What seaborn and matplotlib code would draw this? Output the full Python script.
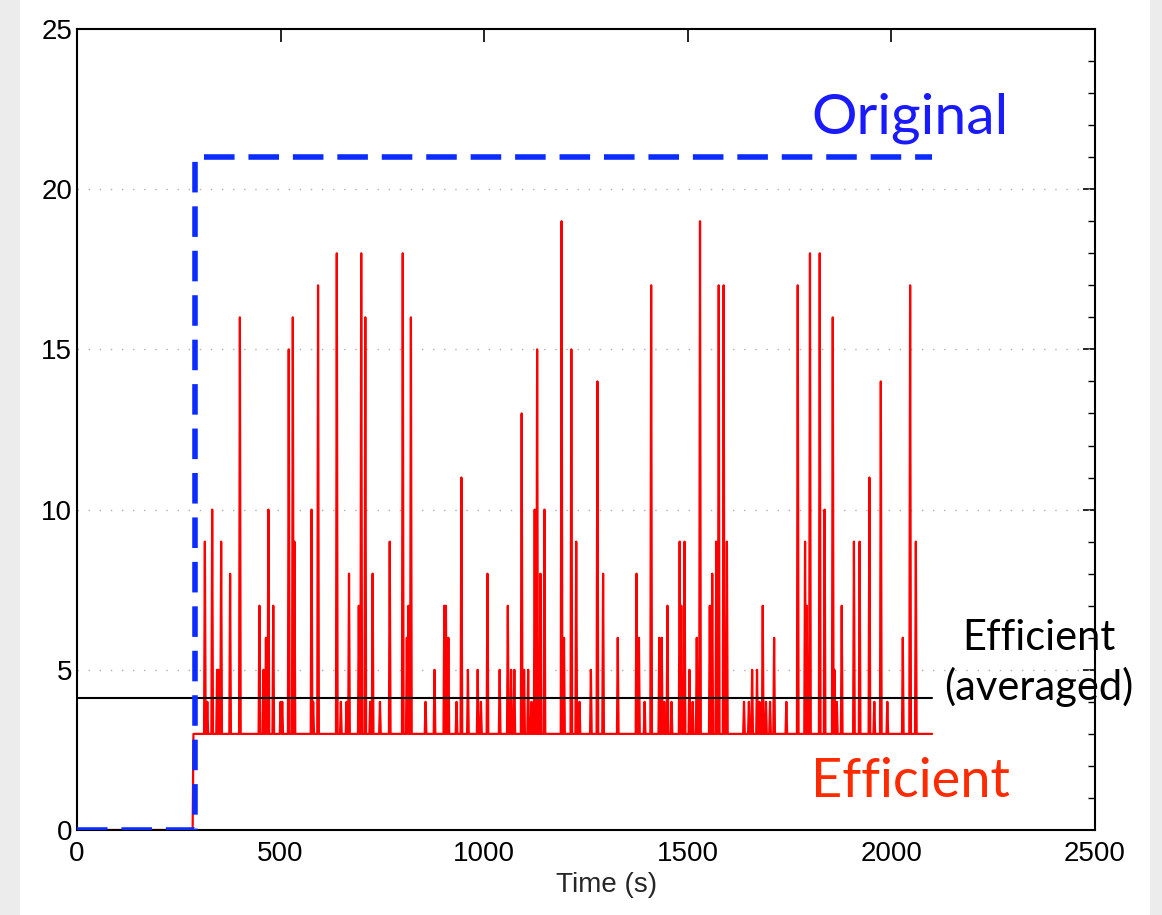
import matplotlib
matplotlib.use("Agg")
import matplotlib.pyplot as plt
import numpy as np
import pandas as pd
import seaborn as sns
from matplotlib.patches import Rectangle
from matplotlib.ticker import MultipleLocator

# --- data ---
start_time = 286          # red series leaves 0 here
end_time = 2100
baseline = 3
sample_step = 2

spike_times = [314, 320, 333, 344, 348, 354, 377, 400, 449, 459, 464, 471, 482, 501, 505,
               521, 531, 535, 576, 581, 593, 639, 648, 662, 669, 693, 699, 709, 720, 726,
               744, 769, 801, 810, 814, 820, 856, 879, 902, 906, 912, 932, 945, 961, 985,
               993, 1008, 1039, 1059, 1066, 1074, 1092, 1098, 1108, 1117, 1125, 1130, 1138,
               1148, 1190, 1197, 1215, 1227, 1235, 1262, 1278, 1293, 1329, 1374, 1381, 1395,
               1411, 1430, 1436, 1443, 1450, 1460, 1481, 1485, 1493, 1505, 1512, 1522, 1531,
               1555, 1561, 1571, 1577, 1589, 1597, 1638, 1650, 1658, 1671, 1677, 1684, 1693,
               1703, 1712, 1743, 1771, 1788, 1792, 1800, 1825, 1837, 1857, 1860, 1866, 1878,
               1908, 1923, 1946, 1958, 1974, 1991, 2029, 2047, 2060]
spike_values = [9, 4, 10, 5, 5, 9, 8, 16, 7, 5, 6, 10, 7, 4, 4,
                15, 16, 9, 10, 4, 17, 18, 4, 4, 8, 7, 18, 16, 4, 8,
                4, 9, 18, 6, 7, 16, 4, 5, 7, 7, 6, 4, 11, 5, 5,
                4, 8, 5, 7, 5, 5, 13, 5, 5, 4, 10, 15, 8,
                10, 19, 6, 15, 9, 4, 5, 14, 8, 6, 8, 6, 4,
                17, 6, 6, 4, 7, 4, 9, 7, 9, 5, 4, 6, 19,
                7, 8, 9, 17, 17, 9, 4, 4, 5, 5, 4, 7, 4,
                4, 6, 4, 17, 9, 7, 18, 18, 10, 16, 5, 4, 7,
                9, 9, 11, 4, 14, 4, 6, 17, 9]

original_times = [0, 290, 290, 2100]
original_values = [0, 0, 21, 21]

averaged_times = [0, 2100]
averaged_values = [4.13, 4.13]

# build the efficient series on a regular sample grid
t_grid = np.arange(start_time, end_time + 1, sample_step)
v_grid = np.full(t_grid.shape, baseline, dtype=float)
for t, v in zip(spike_times, spike_values):
    v_grid[np.argmin(np.abs(t_grid - t))] = v
eff = pd.DataFrame({
    "time": np.concatenate([[0, start_time - 2], t_grid]),
    "value": np.concatenate([[0, 0], v_grid]),
})

sns.set_theme(style="white")
plt.rcParams["font.family"] = ["Liberation Sans", "DejaVu Sans"]

fig = plt.figure(figsize=(11.62, 9.15), dpi=100)
fig.patch.set_facecolor("#ececec")
fig.patches.append(Rectangle((20 / 1162, 0), 1130 / 1162, 1, transform=fig.transFigure,
                             facecolor="white", edgecolor="none", zorder=-10))
ax = fig.add_axes([77 / 1162, 85 / 915, 1018 / 1162, 801 / 915])

sns.lineplot(data=eff, x="time", y="value", ax=ax, color="#ff0000", lw=1.6,
             estimator=None, sort=False, zorder=2)
sns.lineplot(x=averaged_times, y=averaged_values, ax=ax, color="black", lw=1.5,
             estimator=None, sort=False, zorder=3)
sns.lineplot(x=original_times, y=original_values, ax=ax, color="#0a2cff", lw=4,
             linestyle=(0, (5.5, 2.5)), estimator=None, sort=False, zorder=4)

ax.set_xlim(0, 2500)
ax.set_ylim(0, 25)
ax.xaxis.set_major_locator(MultipleLocator(500))
ax.yaxis.set_major_locator(MultipleLocator(5))
ax.yaxis.set_minor_locator(MultipleLocator(1))
ax.tick_params(which="both", direction="in", top=True, right=True, labelsize=20, colors="black")
ax.tick_params(which="major", length=9, width=1.2)
ax.tick_params(which="minor", length=5, width=1)
ax.tick_params(axis="x", pad=8)
ax.grid(False)
for y in [5, 10, 15, 20]:
    ax.axhline(y, color="#b0b0b0", lw=1, linestyle=(0, (1, 7)), zorder=1)
for s in ax.spines.values():
    s.set_color("black")
    s.set_linewidth(1.5)

ax.set_xlabel("Time (s)", fontsize=20)
ax.xaxis.set_label_coords(0.52, -0.052)
ax.set_ylabel("")

big = ["Lato", "DejaVu Sans"]
ax.text(2046, 22.2, "Original", color="#1a1aff", fontsize=41, family=big,
        ha="center", va="center", clip_on=False)
ax.text(2046, 1.5, "Efficient", color="#ff2a00", fontsize=39, family=big,
        ha="center", va="center", clip_on=False)
ax.text(2362, 5.2, "Efficient\n(averaged)", color="black", fontsize=30, family=big,
        ha="center", va="center", linespacing=1.3, clip_on=False)

fig.savefig("out.png", dpi=100, facecolor=fig.get_facecolor())
plt.close(fig)
